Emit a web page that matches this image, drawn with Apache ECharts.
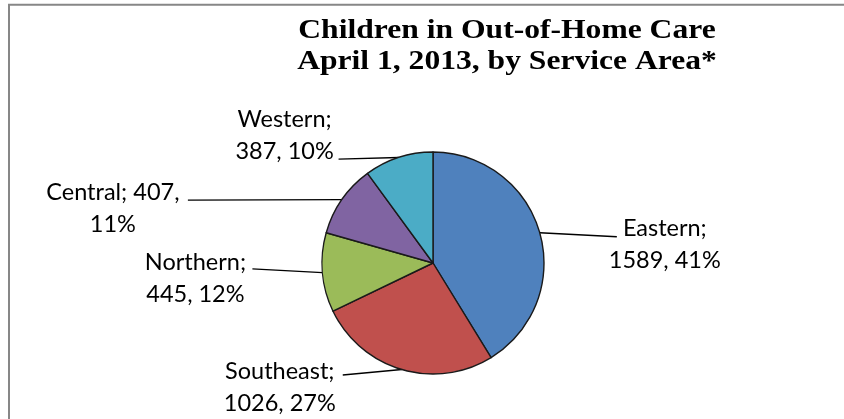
<!DOCTYPE html>
<html>
<head>
<meta charset="utf-8">
<script src="https://cdn.jsdelivr.net/npm/echarts@6/dist/echarts.min.js"></script>
<style>
  html, body { margin: 0; padding: 0; background: #fff; overflow: hidden; }
  #chart { width: 844px; height: 419px; }
</style>
</head>
<body>
<div id="chart"></div>
<script>
// Children in out-of-home care by service area
const categories = ['Eastern', 'Southeast', 'Northern', 'Central', 'Western'];
const counts = [1589, 1026, 445, 407, 387];
const sliceColors = ['#4F81BD', '#C0504D', '#9BBB59', '#8064A2', '#4BACC6'];
const titleLines = ['Children in Out-of-Home Care', 'April 1, 2013, by Service Area*'];

// Label styling: where each leader line ends (relative to the slice edge),
// where the label centre sits (relative to the line end), and line wrapping.
const lineEndOffsets = [[77, 4], [-59, 5.5], [-70, -3.7], [-154, 0.5], [-60, 1.6]];
const labelOffsets = [[48, 8], [-63, 12.5], [-57, 9.5], [-75, 8], [-54, -23.5]];
const wrapAfterValue = [false, false, false, true, false];

const total = counts.reduce((a, b) => a + b, 0);

function labelText(p) {
  const pct = Math.round(p.value / total * 100);
  if (wrapAfterValue[p.dataIndex]) {
    return p.name + '; ' + p.value + ',\n' + pct + '%';
  }
  return p.name + ';\n' + p.value + ', ' + pct + '%';
}

const chart = echarts.init(document.getElementById('chart'), null, { renderer: 'canvas' });

chart.setOption({
  animation: false,
  backgroundColor: '#ffffff',
  graphic: [
    {
      // chart-area frame: only its left and top edges fall inside the view
      type: 'polyline',
      shape: { points: [[9, 430], [9, 4.8], [844, 4.8]] },
      style: { fill: 'none', stroke: '#878787', lineWidth: 2 },
      silent: true
    },
    {
      type: 'text',
      x: 507,
      y: 47,
      scaleX: 1.17,
      style: {
        text: titleLines.join('\n'),
        font: 'bold 27px "Liberation Serif", "Times New Roman", serif',
        fill: '#000',
        align: 'center',
        verticalAlign: 'middle',
        lineHeight: 31
      },
      silent: true
    }
  ],
  series: [{
    type: 'pie',
    center: [433, 263],
    radius: 111,
    startAngle: 90,
    clockwise: true,
    avoidLabelOverlap: false,
    emphasis: { disabled: true },
    data: categories.map((name, i) => ({
      name: name,
      value: counts[i],
      itemStyle: { color: sliceColors[i] }
    })),
    itemStyle: { borderColor: '#1a1a1a', borderWidth: 1.4 },
    label: {
      show: true,
      position: 'outside',
      formatter: labelText,
      fontFamily: 'Lato',
      fontSize: 23.5,
      lineHeight: 32,
      color: '#000',
      align: 'center'
    },
    labelLine: {
      show: true,
      length: 5,
      length2: 5,
      lineStyle: { color: '#000', width: 1.4 }
    },
    labelLayout: function (params) {
      const i = params.dataIndex;
      const start = params.labelLinePoints[0];
      const end = [start[0] + lineEndOffsets[i][0], start[1] + lineEndOffsets[i][1]];
      return {
        x: end[0] + labelOffsets[i][0],
        y: end[1] + labelOffsets[i][1],
        align: 'center',
        verticalAlign: 'middle',
        labelLinePoints: [start, end, end]
      };
    }
  }]
});
</script>
</body>
</html>
